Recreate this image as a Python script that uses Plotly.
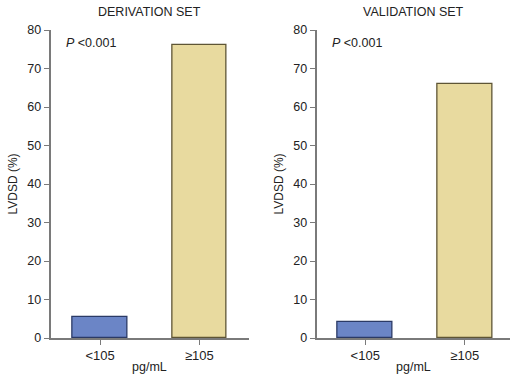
import plotly.graph_objects as go

categories = ["<105", "≥105"]
derivation = [5.5, 76]
validation = [4.2, 66]
panel_titles = ["DERIVATION SET", "VALIDATION SET"]
y_ticks = [0, 10, 20, 30, 40, 50, 60, 70, 80]
colors = ["#6b85c6", "#e8da9f"]
edge_colors = ["#2b3a66", "#5e5535"]

W, H = 514, 376
fig = go.Figure()

panels = [
    dict(vals=derivation, xa="x", ya="y", xdom=(50.5, 249), xr=[-0.5, 1.5]),
    dict(vals=validation, xa="x2", ya="y2", xdom=(316.5, 510), xr=[-0.49, 1.455]),
]
y0_px, y80_px = 338, 30
ydom = [(H - y0_px) / H, (H - y80_px) / H]

font = "Liberation Sans, Arial, sans-serif"
axis_col = "#7a7a7a"
txt_col = "#222222"

for i, p in enumerate(panels):
    fig.add_trace(go.Bar(
        x=[0, 1], y=p["vals"], xaxis=p["xa"], yaxis=p["ya"],
        marker=dict(color=colors, line=dict(color=edge_colors, width=1.3)),
        width=0.55, showlegend=False, hoverinfo="skip",
    ))
    sfx = "" if i == 0 else "2"
    xd = [p["xdom"][0] / W, p["xdom"][1] / W]
    fig.layout["xaxis" + sfx] = dict(
        domain=xd, range=p["xr"], tickvals=[0, 1], ticktext=categories,
        ticks="outside", ticklen=5, tickcolor=axis_col, showline=True,
        linecolor=axis_col, linewidth=1.5, showgrid=False, zeroline=False,
        anchor="y" + sfx, automargin=False,
        tickfont=dict(size=13, color=txt_col, family=font),
    )
    fig.layout["yaxis" + sfx] = dict(
        domain=ydom, range=[0, 80], tickvals=y_ticks, ticks="outside", ticklen=5,
        tickcolor=axis_col, showline=True, linecolor=axis_col, linewidth=1.5,
        showgrid=False, zeroline=False, anchor="x" + sfx, automargin=False,
        tickfont=dict(size=12.5, color=txt_col, family=font),
        title=dict(text="LVDSD (%)", font=dict(size=12, color=txt_col, family=font), standoff=7),
    )
    fig.add_annotation(
        x=(xd[0] + xd[1]) / 2, y=1 - 12 / H, xref="paper", yref="paper",
        xanchor="center", yanchor="middle",
        text=panel_titles[i], showarrow=False,
        font=dict(size=12.5, color=txt_col, family=font),
    )
    fig.add_annotation(
        x=(xd[0] + xd[1]) / 2, y=0, xref="paper", yref="paper",
        xanchor="center", yanchor="bottom",
        text="pg/mL", showarrow=False,
        font=dict(size=12.5, color=txt_col, family=font),
    )
    fig.add_annotation(
        x=0.07, y=76.5, xref=("x" + sfx if sfx else "x") + " domain", yref="y" + sfx,
        text="<i>P</i> &lt;0.001", showarrow=False, xanchor="left",
        font=dict(size=12.5, color=txt_col, family=font),
    )

fig.update_layout(
    width=W, height=H, margin=dict(l=0, r=0, t=0, b=0, autoexpand=False),
    plot_bgcolor="white", paper_bgcolor="white", bargap=0,
)

fig.write_html(
    "out.html",
    config={"displayModeBar": False},
    post_script="document.body.style.margin='0';document.body.style.overflow='hidden';",
)
